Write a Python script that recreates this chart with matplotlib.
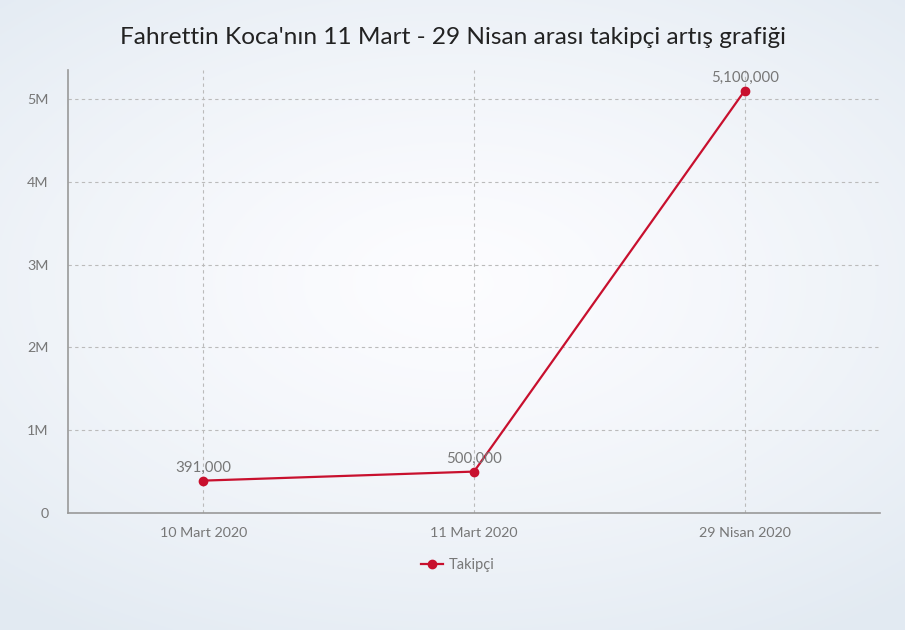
import numpy as np
import matplotlib.pyplot as plt
from matplotlib.ticker import FuncFormatter

plt.rcParams['font.family'] = ['Lato', 'DejaVu Sans']

dates = ["10 Mart 2020", "11 Mart 2020", "29 Nisan 2020"]
takipci = [391000, 500000, 5100000]
yticks = [0, 1000000, 2000000, 3000000, 4000000, 5000000]

fig = plt.figure(figsize=(9.05, 6.3), dpi=100)

# soft radial background, whiter in the middle, light blue-grey at the edges
bg = fig.add_axes([0, 0, 1, 1], zorder=-10)
yy, xx = np.mgrid[-1:1:300j, -1:1:400j]
r = np.clip(np.sqrt((xx * 0.85) ** 2 + ((yy + 0.1) * 1.0) ** 2) / 1.3, 0, 1)
center = np.array([0.99, 0.99, 1.0])
edge = np.array([0.89, 0.92, 0.95])
img = center + (edge - center) * r[..., None] ** 1.3
bg.imshow(img, aspect='auto', extent=[0, 1, 0, 1])
bg.axis('off')

ax = fig.add_axes([68 / 905, 1 - 513 / 630, 812 / 905, 443 / 630])
ax.patch.set_alpha(0)

x = np.arange(len(dates)) + 0.5
color = '#c8102e'
ax.plot(x, takipci, color=color, lw=1.6, marker='o', ms=6, label='Takipçi', zorder=3)
for xi, v in zip(x, takipci):
    ax.annotate(f"{v:,}", (xi, v), xytext=(0, 4), textcoords='offset points',
                ha='center', va='bottom', fontsize=10.8, color='#777777')

ax.set_xlim(0, 3)
ax.set_ylim(0, 5.35e6)
ax.set_xticks(x)
ax.set_xticklabels(dates)
ax.set_yticks(yticks)
ax.yaxis.set_major_formatter(FuncFormatter(lambda v, p: "0" if v == 0 else f"{v / 1e6:.0f}M"))
ax.tick_params(length=0, labelsize=10.3, colors='#777777', pad=10)
ax.tick_params(axis='y', pad=14)

ax.grid(True, color='#bbbbbb', ls=(0, (3, 3)), lw=0.8)
ax.set_axisbelow(True)
for s in ['top', 'right']:
    ax.spines[s].set_visible(False)
for s in ['left', 'bottom']:
    ax.spines[s].set_color('#999999')
    ax.spines[s].set_linewidth(1.2)

fig.text(0.5, 1 - 38 / 630, "Fahrettin Koca'nın 11 Mart - 29 Nisan arası takipçi artış grafiği",
         ha='center', va='center', fontsize=17.6, color='#222222')

ax.legend(loc='center', bbox_to_anchor=(458 / 905, 1 - 565 / 630), bbox_transform=fig.transFigure,
          frameon=False, fontsize=10.5, labelcolor='#777777', handlelength=1.5, handletextpad=0.4)

fig.savefig('out.png', dpi=100)
